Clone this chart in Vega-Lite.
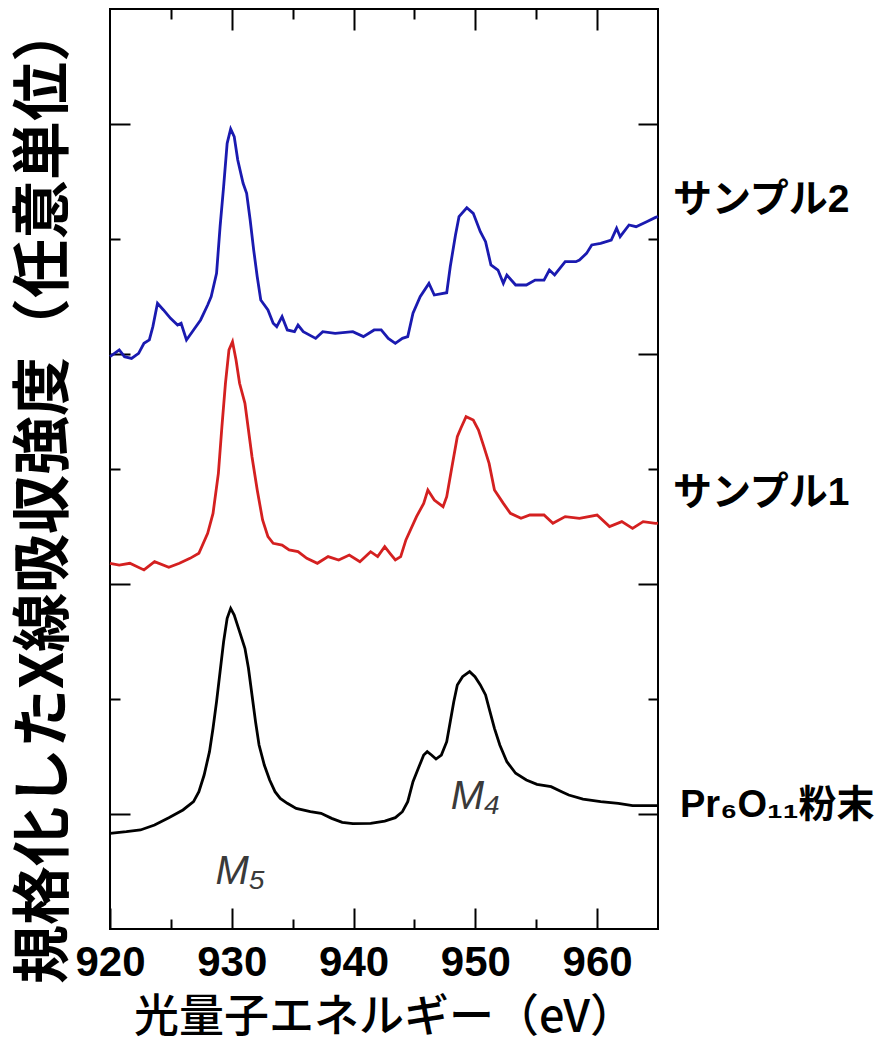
{
  "$schema": "https://vega.github.io/schema/vega-lite/v6.json",
  "width": 548,
  "height": 920,
  "autosize": {"type": "none"},
  "padding": {"left": 110, "top": 9, "right": 224, "bottom": 115},
  "background": "white",
  "config": {"view": {"stroke": "black", "strokeWidth": 2}, "axis": {"grid": false, "domain": false, "tickColor": "black", "tickWidth": 2}},
  "datasets": {
    "curves": [
      {"s":"b","e":920.00,"v":49.77},{"s":"b","e":920.76,"v":50.35},{"s":"b","e":921.19,"v":49.77},{"s":"b","e":921.77,"v":49.62},{"s":"b","e":922.35,"v":50.06},{"s":"b","e":922.79,"v":50.93},{"s":"b","e":923.23,"v":51.22},{"s":"b","e":923.52,"v":52.38},{"s":"b","e":923.90,"v":54.41},{"s":"b","e":924.39,"v":53.83},{"s":"b","e":924.97,"v":53.10},{"s":"b","e":925.55,"v":52.52},{"s":"b","e":925.84,"v":52.67},{"s":"b","e":926.28,"v":51.22},{"s":"b","e":926.86,"v":52.09},{"s":"b","e":927.44,"v":52.96},{"s":"b","e":928.02,"v":54.26},{"s":"b","e":928.31,"v":54.99},{"s":"b","e":928.75,"v":57.01},{"s":"b","e":929.04,"v":61.07},{"s":"b","e":929.33,"v":64.55},{"s":"b","e":929.62,"v":68.32},{"s":"b","e":929.91,"v":69.57},{"s":"b","e":930.20,"v":68.90},{"s":"b","e":930.49,"v":66.87},{"s":"b","e":930.93,"v":64.84},{"s":"b","e":931.22,"v":63.97},{"s":"b","e":931.51,"v":61.65},{"s":"b","e":931.80,"v":59.04},{"s":"b","e":932.09,"v":56.72},{"s":"b","e":932.38,"v":54.70},{"s":"b","e":932.97,"v":53.83},{"s":"b","e":933.40,"v":52.67},{"s":"b","e":933.69,"v":52.38},{"s":"b","e":934.13,"v":53.25},{"s":"b","e":934.56,"v":52.09},{"s":"b","e":935.15,"v":51.94},{"s":"b","e":935.44,"v":52.52},{"s":"b","e":935.87,"v":51.94},{"s":"b","e":936.89,"v":51.36},{"s":"b","e":937.47,"v":51.94},{"s":"b","e":938.49,"v":51.80},{"s":"b","e":939.94,"v":51.94},{"s":"b","e":940.81,"v":51.51},{"s":"b","e":941.69,"v":52.09},{"s":"b","e":942.27,"v":52.09},{"s":"b","e":942.85,"v":51.36},{"s":"b","e":943.43,"v":50.93},{"s":"b","e":944.01,"v":51.36},{"s":"b","e":944.45,"v":51.51},{"s":"b","e":944.88,"v":53.54},{"s":"b","e":945.47,"v":54.99},{"s":"b","e":946.19,"v":56.14},{"s":"b","e":946.63,"v":55.13},{"s":"b","e":947.65,"v":55.33},{"s":"b","e":947.94,"v":57.59},{"s":"b","e":948.37,"v":60.35},{"s":"b","e":948.66,"v":61.94},{"s":"b","e":949.30,"v":62.72},{"s":"b","e":949.83,"v":62.23},{"s":"b","e":950.41,"v":60.64},{"s":"b","e":950.84,"v":59.77},{"s":"b","e":951.28,"v":57.74},{"s":"b","e":951.86,"v":57.30},{"s":"b","e":952.30,"v":56.14},{"s":"b","e":952.59,"v":56.87},{"s":"b","e":953.31,"v":56.00},{"s":"b","e":954.19,"v":56.00},{"s":"b","e":954.91,"v":56.43},{"s":"b","e":955.64,"v":56.43},{"s":"b","e":956.08,"v":57.30},{"s":"b","e":956.51,"v":56.87},{"s":"b","e":957.38,"v":58.03},{"s":"b","e":958.26,"v":58.03},{"s":"b","e":958.55,"v":58.17},{"s":"b","e":959.13,"v":58.75},{"s":"b","e":959.56,"v":59.48},{"s":"b","e":960.29,"v":59.62},{"s":"b","e":961.16,"v":59.91},{"s":"b","e":961.60,"v":60.93},{"s":"b","e":961.89,"v":60.20},{"s":"b","e":962.62,"v":61.22},{"s":"b","e":963.20,"v":61.07},{"s":"b","e":964.07,"v":61.50},{"s":"b","e":964.80,"v":61.88},{"s":"b","e":965.00,"v":61.95},

      {"s":"r","e":920.00,"v":31.80},{"s":"r","e":920.76,"v":31.65},{"s":"r","e":921.63,"v":31.80},{"s":"r","e":922.79,"v":31.22},{"s":"r","e":923.66,"v":31.94},{"s":"r","e":924.83,"v":31.45},{"s":"r","e":925.70,"v":31.80},{"s":"r","e":926.57,"v":32.23},{"s":"r","e":927.30,"v":32.67},{"s":"r","e":928.02,"v":34.41},{"s":"r","e":928.46,"v":36.14},{"s":"r","e":928.90,"v":39.62},{"s":"r","e":929.19,"v":43.68},{"s":"r","e":929.48,"v":47.45},{"s":"r","e":929.77,"v":50.35},{"s":"r","e":930.06,"v":51.07},{"s":"r","e":930.35,"v":49.48},{"s":"r","e":930.64,"v":47.45},{"s":"r","e":931.08,"v":45.71},{"s":"r","e":931.37,"v":43.39},{"s":"r","e":931.66,"v":41.07},{"s":"r","e":932.09,"v":38.17},{"s":"r","e":932.53,"v":35.57},{"s":"r","e":932.97,"v":34.12},{"s":"r","e":933.40,"v":33.54},{"s":"r","e":934.13,"v":33.39},{"s":"r","e":934.71,"v":32.96},{"s":"r","e":935.44,"v":32.81},{"s":"r","e":936.16,"v":32.23},{"s":"r","e":937.03,"v":31.80},{"s":"r","e":937.91,"v":32.38},{"s":"r","e":938.78,"v":32.09},{"s":"r","e":939.65,"v":32.52},{"s":"r","e":940.52,"v":31.94},{"s":"r","e":941.40,"v":32.81},{"s":"r","e":941.98,"v":32.38},{"s":"r","e":942.56,"v":33.25},{"s":"r","e":942.99,"v":32.67},{"s":"r","e":943.43,"v":32.09},{"s":"r","e":943.87,"v":32.38},{"s":"r","e":944.30,"v":33.83},{"s":"r","e":945.17,"v":35.86},{"s":"r","e":945.76,"v":37.01},{"s":"r","e":946.10,"v":38.17},{"s":"r","e":946.63,"v":37.30},{"s":"r","e":947.35,"v":36.72},{"s":"r","e":947.65,"v":37.59},{"s":"r","e":948.08,"v":40.20},{"s":"r","e":948.52,"v":42.81},{"s":"r","e":948.81,"v":43.54},{"s":"r","e":949.24,"v":44.55},{"s":"r","e":949.83,"v":44.26},{"s":"r","e":950.26,"v":43.39},{"s":"r","e":950.70,"v":41.94},{"s":"r","e":951.13,"v":40.49},{"s":"r","e":951.57,"v":38.17},{"s":"r","e":952.30,"v":37.01},{"s":"r","e":952.88,"v":36.14},{"s":"r","e":953.75,"v":35.71},{"s":"r","e":954.48,"v":36.00},{"s":"r","e":955.64,"v":36.00},{"s":"r","e":956.37,"v":35.28},{"s":"r","e":957.38,"v":35.86},{"s":"r","e":958.55,"v":35.71},{"s":"r","e":960.00,"v":36.00},{"s":"r","e":961.02,"v":34.99},{"s":"r","e":962.03,"v":35.42},{"s":"r","e":962.91,"v":34.84},{"s":"r","e":963.78,"v":35.42},{"s":"r","e":964.80,"v":35.28},{"s":"r","e":965.00,"v":35.30},

      {"s":"k","e":920.00,"v":8.32},{"s":"k","e":921.34,"v":8.46},{"s":"k","e":922.50,"v":8.61},{"s":"k","e":923.66,"v":9.04},{"s":"k","e":924.83,"v":9.68},{"s":"k","e":925.99,"v":10.35},{"s":"k","e":926.86,"v":11.07},{"s":"k","e":927.30,"v":11.94},{"s":"k","e":927.73,"v":13.39},{"s":"k","e":928.17,"v":15.42},{"s":"k","e":928.46,"v":17.45},{"s":"k","e":928.75,"v":19.77},{"s":"k","e":929.04,"v":22.38},{"s":"k","e":929.33,"v":24.99},{"s":"k","e":929.62,"v":27.01},{"s":"k","e":929.91,"v":27.88},{"s":"k","e":930.20,"v":27.30},{"s":"k","e":930.64,"v":25.86},{"s":"k","e":931.08,"v":24.41},{"s":"k","e":931.37,"v":22.67},{"s":"k","e":931.66,"v":20.35},{"s":"k","e":931.95,"v":18.03},{"s":"k","e":932.24,"v":16.00},{"s":"k","e":932.67,"v":14.26},{"s":"k","e":933.11,"v":12.96},{"s":"k","e":933.55,"v":11.94},{"s":"k","e":933.98,"v":11.36},{"s":"k","e":934.56,"v":10.93},{"s":"k","e":935.29,"v":10.49},{"s":"k","e":936.45,"v":10.20},{"s":"k","e":937.33,"v":10.06},{"s":"k","e":938.20,"v":9.62},{"s":"k","e":939.07,"v":9.28},{"s":"k","e":939.94,"v":9.16},{"s":"k","e":941.40,"v":9.19},{"s":"k","e":942.56,"v":9.39},{"s":"k","e":943.43,"v":9.68},{"s":"k","e":944.01,"v":10.20},{"s":"k","e":944.45,"v":11.07},{"s":"k","e":944.88,"v":12.81},{"s":"k","e":945.32,"v":13.97},{"s":"k","e":945.76,"v":15.13},{"s":"k","e":946.05,"v":15.42},{"s":"k","e":946.40,"v":15.13},{"s":"k","e":946.77,"v":14.78},{"s":"k","e":947.21,"v":15.13},{"s":"k","e":947.65,"v":16.29},{"s":"k","e":947.94,"v":18.03},{"s":"k","e":948.23,"v":19.77},{"s":"k","e":948.52,"v":21.22},{"s":"k","e":948.95,"v":21.94},{"s":"k","e":949.53,"v":22.38},{"s":"k","e":949.97,"v":21.94},{"s":"k","e":950.41,"v":21.22},{"s":"k","e":950.84,"v":20.35},{"s":"k","e":951.13,"v":19.19},{"s":"k","e":951.57,"v":17.45},{"s":"k","e":952.01,"v":16.00},{"s":"k","e":952.59,"v":14.55},{"s":"k","e":953.31,"v":13.54},{"s":"k","e":954.19,"v":12.96},{"s":"k","e":955.06,"v":12.58},{"s":"k","e":956.22,"v":12.38},{"s":"k","e":957.09,"v":11.94},{"s":"k","e":957.67,"v":11.65},{"s":"k","e":958.84,"v":11.30},{"s":"k","e":960.29,"v":11.07},{"s":"k","e":961.74,"v":10.93},{"s":"k","e":962.91,"v":10.72},{"s":"k","e":964.80,"v":10.72},{"s":"k","e":965.00,"v":10.72}
    ],
    "samples": [
      {"lab":"サンプル2","e":965,"v":63.4},
      {"lab":"サンプル1","e":965,"v":37.9}
    ],
    "powder": [
      {"lab":"Pr₆O₁₁粉末","e":965,"v":10.7}
    ],
    "peaks": [
      {"lab":"M₅","e":930.7,"v":4.96},
      {"lab":"M₄","e":950.0,"v":11.5}
    ]
  },
  "resolve": {"axis": {"x": "independent", "y": "independent"}},
  "layer": [
    {
      "data": {"name": "curves"},
      "mark": {"type": "line", "strokeWidth": 2.8},
      "encoding": {
        "x": {"field": "e", "type": "quantitative", "scale": {"domain": [920, 965], "nice": false, "zero": false},
          "axis": {"orient": "bottom", "values": [920, 930, 940, 950, 960], "tickSize": -21, "labelFont": "Liberation Sans", "labelFontWeight": "bold", "labelFontSize": 42, "labelColor": "black", "labelPadding": 34, "labelFlush": false, "labelOverlap": false,
            "title": "光量子エネルギー（eV）", "titleFont": "Noto Sans CJK JP", "titleFontSize": 45, "titleFontWeight": 500, "titleColor": "black", "titleX": 274, "titleY": 88, "titleBaseline": "middle", "titleAlign": "center"}},
        "y": {"field": "v", "type": "quantitative", "scale": {"domain": [0, 80], "nice": false, "zero": false},
          "axis": {"orient": "left", "values": [10, 30, 50, 70], "tickSize": -20, "labels": false,
            "title": "規格化したX線吸収強度（任意単位）", "titleFont": "Noto Sans CJK JP", "titleFontSize": 59, "titleFontWeight": "bold", "titleColor": "black", "titleX": -66, "titleY": 484, "titleAngle": -90, "titleBaseline": "middle", "titleAlign": "center"}},
        "color": {"field": "s", "type": "nominal", "scale": {"domain": ["b", "r", "k"], "range": ["#1a1ab0", "#d42020", "#000000"]}, "legend": null}
      }
    },
    {
      "data": {"name": "curves"},
      "mark": {"type": "line", "opacity": 0},
      "encoding": {
        "x": {"field": "e", "type": "quantitative", "axis": {"orient": "bottom", "values": [925, 935, 945, 955], "tickSize": -10, "labels": false, "title": null}},
        "y": {"field": "v", "type": "quantitative", "axis": {"orient": "left", "values": [20, 40, 60], "tickSize": -10, "labels": false, "title": null}},
        "detail": {"field": "s"}
      }
    },
    {
      "data": {"name": "curves"},
      "mark": {"type": "line", "opacity": 0},
      "encoding": {
        "x": {"field": "e", "type": "quantitative", "axis": {"orient": "top", "values": [930, 940, 950, 960], "tickSize": -21, "labels": false, "title": null}},
        "y": {"field": "v", "type": "quantitative", "axis": {"orient": "right", "values": [10, 30, 50, 70], "tickSize": -20, "labels": false, "title": null}},
        "detail": {"field": "s"}
      }
    },
    {
      "data": {"name": "curves"},
      "mark": {"type": "line", "opacity": 0},
      "encoding": {
        "x": {"field": "e", "type": "quantitative", "axis": {"orient": "top", "values": [925, 935, 945, 955], "tickSize": -10, "labels": false, "title": null}},
        "y": {"field": "v", "type": "quantitative", "axis": {"orient": "right", "values": [20, 40, 60], "tickSize": -10, "labels": false, "title": null}},
        "detail": {"field": "s"}
      }
    },
    {
      "data": {"name": "samples"},
      "mark": {"type": "text", "align": "left", "baseline": "middle", "dx": 15, "font": "Liberation Sans, Noto Sans CJK JP", "fontWeight": "bold", "fontSize": 39, "color": "black"},
      "encoding": {
        "x": {"field": "e", "type": "quantitative", "axis": null},
        "y": {"field": "v", "type": "quantitative", "axis": null},
        "text": {"field": "lab"}
      }
    },
    {
      "data": {"name": "powder"},
      "mark": {"type": "text", "align": "left", "baseline": "middle", "dx": 22, "font": "Liberation Sans, DejaVu Sans, Noto Sans CJK JP", "fontWeight": "bold", "fontSize": 38, "color": "black"},
      "encoding": {
        "x": {"field": "e", "type": "quantitative", "axis": null},
        "y": {"field": "v", "type": "quantitative", "axis": null},
        "text": {"field": "lab"}
      }
    },
    {
      "data": {"name": "peaks"},
      "mark": {"type": "text", "align": "center", "baseline": "middle", "font": "Liberation Sans, DejaVu Sans", "fontStyle": "italic", "fontSize": 40, "color": "#3a3a3a"},
      "encoding": {
        "x": {"field": "e", "type": "quantitative", "axis": null},
        "y": {"field": "v", "type": "quantitative", "axis": null},
        "text": {"field": "lab"}
      }
    }
  ]
}
